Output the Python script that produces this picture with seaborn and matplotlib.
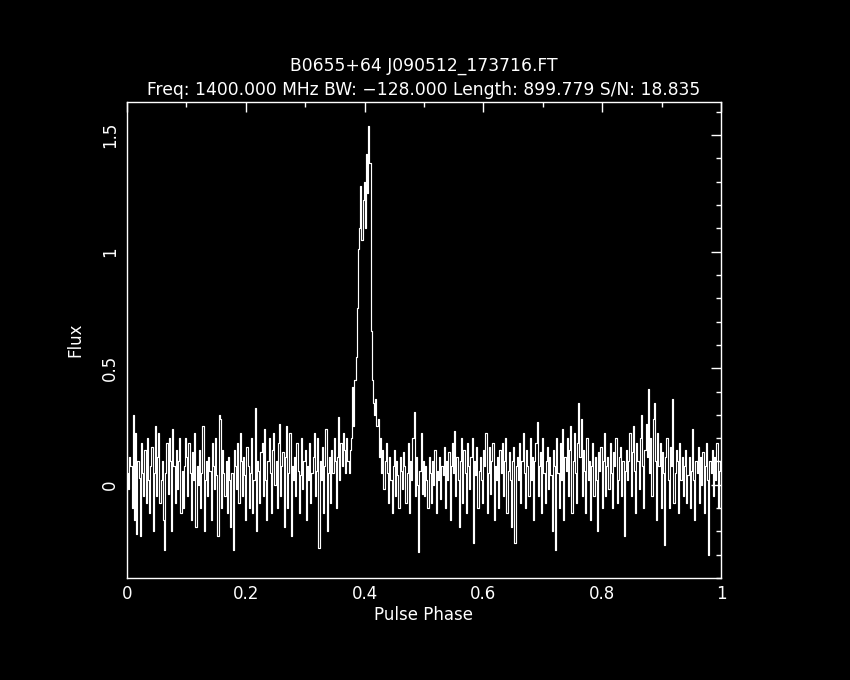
import numpy as np
import pandas as pd
import matplotlib
matplotlib.use("Agg")
import matplotlib.pyplot as plt
import seaborn as sns
from matplotlib.ticker import MultipleLocator

title_line1 = "B0655+64 J090512_173716.FT"
title_line2 = "Freq: 1400.000 MHz BW: \u2212128.000 Length: 899.779 S/N: 18.835"
x_label = "Pulse Phase"
y_label = "Flux"
x_ticks = [0, 0.2, 0.4, 0.6, 0.8, 1]
x_tick_labels = ["0", "0.2", "0.4", "0.6", "0.8", "1"]
y_ticks = [0, 0.5, 1, 1.5]
y_tick_labels = ["0", "0.5", "1", "1.5"]

flux = [
    0.05, -0.02, 0.12, 0.08, -0.10, 0.30, -0.15, 0.22, -0.21, 0.10, 0.03, -0.22, 0.18, 0.05, -0.05, 0.15,
    -0.08, 0.20, 0.02, -0.12, 0.08, 0.16, -0.20, 0.05, 0.25, -0.05, 0.12, 0.22, -0.08, 0.02, 0.10, -0.15,
    -0.28, 0.05, 0.18, -0.04, 0.20, 0.10, -0.20, 0.24, 0.08, -0.08, 0.15, -0.02, 0.10, 0.20, -0.12, 0.06,
    -0.10, 0.08, 0.20, 0.12, -0.05, 0.18, 0.05, -0.15, 0.14, 0.02, 0.22, -0.18, 0.08, 0.00, 0.15, -0.10,
    0.05, 0.25, -0.20, 0.02, 0.10, -0.05, 0.12, 0.06, -0.15, 0.18, 0.08, -0.02, 0.20, 0.04, -0.22, 0.30,
    0.28, -0.10, 0.15, 0.05, -0.05, 0.10, -0.12, 0.12, 0.02, -0.18, 0.05, -0.28, 0.15, 0.08, -0.02, 0.18,
    -0.08, 0.22, 0.10, -0.05, 0.12, 0.04, -0.15, 0.16, 0.08, -0.10, 0.05, 0.20, -0.12, 0.02, 0.33, -0.20,
    0.10, 0.06, -0.08, 0.14, 0.18, -0.05, 0.24, 0.02, -0.15, 0.10, 0.20, 0.05, -0.12, 0.15, 0.22, 0.00,
    0.10, -0.10, 0.18, 0.26, -0.05, 0.08, 0.14, -0.18, 0.12, 0.25, -0.10, 0.05, 0.22, -0.22, 0.08, 0.02,
    0.12, -0.05, 0.18, 0.06, -0.12, 0.04, 0.20, -0.02, 0.10, 0.15, -0.15, 0.08, 0.02, 0.18, -0.08, 0.05,
    0.12, 0.22, -0.05, 0.06, 0.20, -0.27, 0.10, 0.02, 0.16, -0.12, 0.08, 0.24, -0.20, 0.05, 0.12, -0.08,
    0.15, 0.05, 0.20, 0.10, -0.10, 0.12, 0.29, 0.02, 0.18, 0.08, 0.22, 0.15, 0.05, 0.20, 0.10, 0.05,
    0.15, 0.20, 0.42, 0.25, 0.45, 0.55, 0.76, 1.01, 1.10, 1.28, 1.05, 1.22, 1.30, 1.10, 1.42, 1.25,
    1.54, 1.38, 0.66, 0.45, 0.35, 0.30, 0.37, 0.25, 0.28, 0.12, 0.20, 0.05, 0.15, -0.02, 0.10, 0.18,
    0.05, -0.08, 0.12, 0.02, -0.12, 0.08, 0.15, -0.05, 0.10, 0.04, -0.10, 0.12, 0.06, -0.02, 0.14, 0.08,
    -0.08, 0.05, 0.18, -0.12, 0.10, 0.02, 0.20, 0.31, -0.05, 0.12, 0.00, -0.29, 0.06, 0.22, -0.04, 0.10,
    -0.05, 0.08, 0.02, -0.10, 0.12, 0.05, -0.08, 0.10, 0.00, 0.15, -0.12, 0.06, 0.02, 0.12, -0.06, 0.08,
    0.04, 0.16, -0.10, 0.10, 0.02, 0.14, -0.15, 0.08, 0.18, 0.05, 0.23, -0.05, 0.12, 0.02, -0.18, 0.10,
    0.20, -0.08, 0.15, 0.05, -0.12, 0.18, 0.08, -0.02, 0.12, 0.20, -0.25, 0.10, 0.04, 0.16, -0.10, 0.06,
    0.12, 0.02, -0.08, 0.15, 0.08, 0.22, -0.12, 0.05, 0.16, -0.04, 0.10, 0.18, -0.15, 0.08, 0.02, 0.12,
    -0.10, 0.15, 0.05, 0.18, -0.05, 0.10, 0.20, -0.12, 0.06, 0.14, 0.02, -0.18, 0.10, 0.16, -0.25, 0.08,
    0.12, 0.02, 0.18, -0.08, 0.10, 0.22, 0.05, -0.10, 0.15, 0.08, -0.05, 0.20, 0.02, 0.12, -0.15, 0.10,
    0.18, 0.27, -0.05, 0.08, 0.14, -0.12, 0.20, 0.05, -0.08, 0.10, 0.16, -0.02, 0.12, 0.04, -0.20, 0.15,
    0.08, -0.28, 0.20, 0.05, -0.10, 0.18, 0.02, 0.24, -0.15, 0.12, 0.06, 0.20, -0.05, 0.15, 0.25, -0.12,
    0.10, 0.22, 0.05, -0.08, 0.18, 0.35, 0.12, 0.28, -0.05, 0.15, 0.06, -0.12, 0.20, 0.02, 0.10, -0.15,
    0.08, 0.18, -0.05, 0.12, 0.02, -0.20, 0.14, 0.06, 0.16, -0.10, 0.10, 0.22, -0.05, 0.08, 0.12, -0.02,
    0.18, 0.05, -0.10, 0.14, 0.08, 0.20, -0.08, 0.02, 0.12, 0.16, -0.05, 0.10, -0.22, 0.06, 0.15, 0.02,
    0.10, 0.22, -0.05, 0.14, 0.25, 0.06, -0.12, 0.18, 0.10, -0.02, 0.20, 0.30, 0.08, -0.10, 0.15, 0.26,
    0.12, 0.41, 0.05, 0.20, -0.05, 0.28, 0.35, 0.10, -0.15, 0.22, 0.08, 0.18, -0.10, 0.14, 0.05, -0.26,
    0.12, 0.20, 0.02, -0.10, 0.16, 0.08, 0.37, -0.08, 0.05, 0.15, 0.10, -0.12, 0.18, 0.02, 0.12, -0.05,
    0.08, 0.15, -0.08, 0.04, 0.12, -0.10, 0.06, 0.24, 0.02, -0.15, 0.10, 0.05, 0.16, -0.08, 0.12, 0.00,
    0.14, -0.12, 0.08, 0.18, 0.02, -0.30, 0.10, 0.05, 0.15, -0.05, 0.12, 0.02, 0.18, -0.10, 0.06, 0.10,
]
n_bins = len(flux)
phase = np.arange(n_bins) / n_bins

df = pd.DataFrame({"phase": phase, "flux": flux})

sns.set_theme(style="dark")
plt.rcParams["font.family"] = ["DejaVu Sans"]
fg = "white"
fig = plt.figure(figsize=(8.5, 6.8), dpi=100, facecolor="black")
ax = fig.add_axes([127 / 850, 102 / 680, 594 / 850, 476 / 680])
ax.set_facecolor("black")

sns.lineplot(data=df, x="phase", y="flux", ax=ax, color=fg, linewidth=0.85,
             drawstyle="steps-post", estimator=None, sort=False)

ax.set_xlim(0, 1)
ax.set_ylim(-0.4, 1.642)
ax.set_xticks(x_ticks)
ax.set_xticklabels(x_tick_labels)
ax.xaxis.set_minor_locator(MultipleLocator(0.1))
ax.set_yticks(y_ticks)
ax.set_yticklabels(y_tick_labels, rotation=90, va="center")
ax.yaxis.set_minor_locator(MultipleLocator(0.1))
ax.tick_params(which="both", direction="in", top=True, right=True, colors=fg,
               labelcolor=fg, labelsize=12, width=1)
ax.tick_params(axis="x", which="major", length=7, pad=5)
ax.tick_params(axis="y", which="major", length=7, pad=6)
ax.tick_params(which="minor", length=3.5)
ax.grid(False)
for s in ax.spines.values():
    s.set_color(fg)
    s.set_linewidth(1)
    s.set_visible(True)

ax.set_xlabel(x_label, color=fg, fontsize=12, labelpad=2)
ax.set_ylabel(y_label, color=fg, fontsize=12, labelpad=12)
ax.set_title(title_line1 + "\n" + title_line2, color=fg, fontsize=12.3, pad=5,
             linespacing=1.45)

fig.savefig("out.png", dpi=100, facecolor="black")
